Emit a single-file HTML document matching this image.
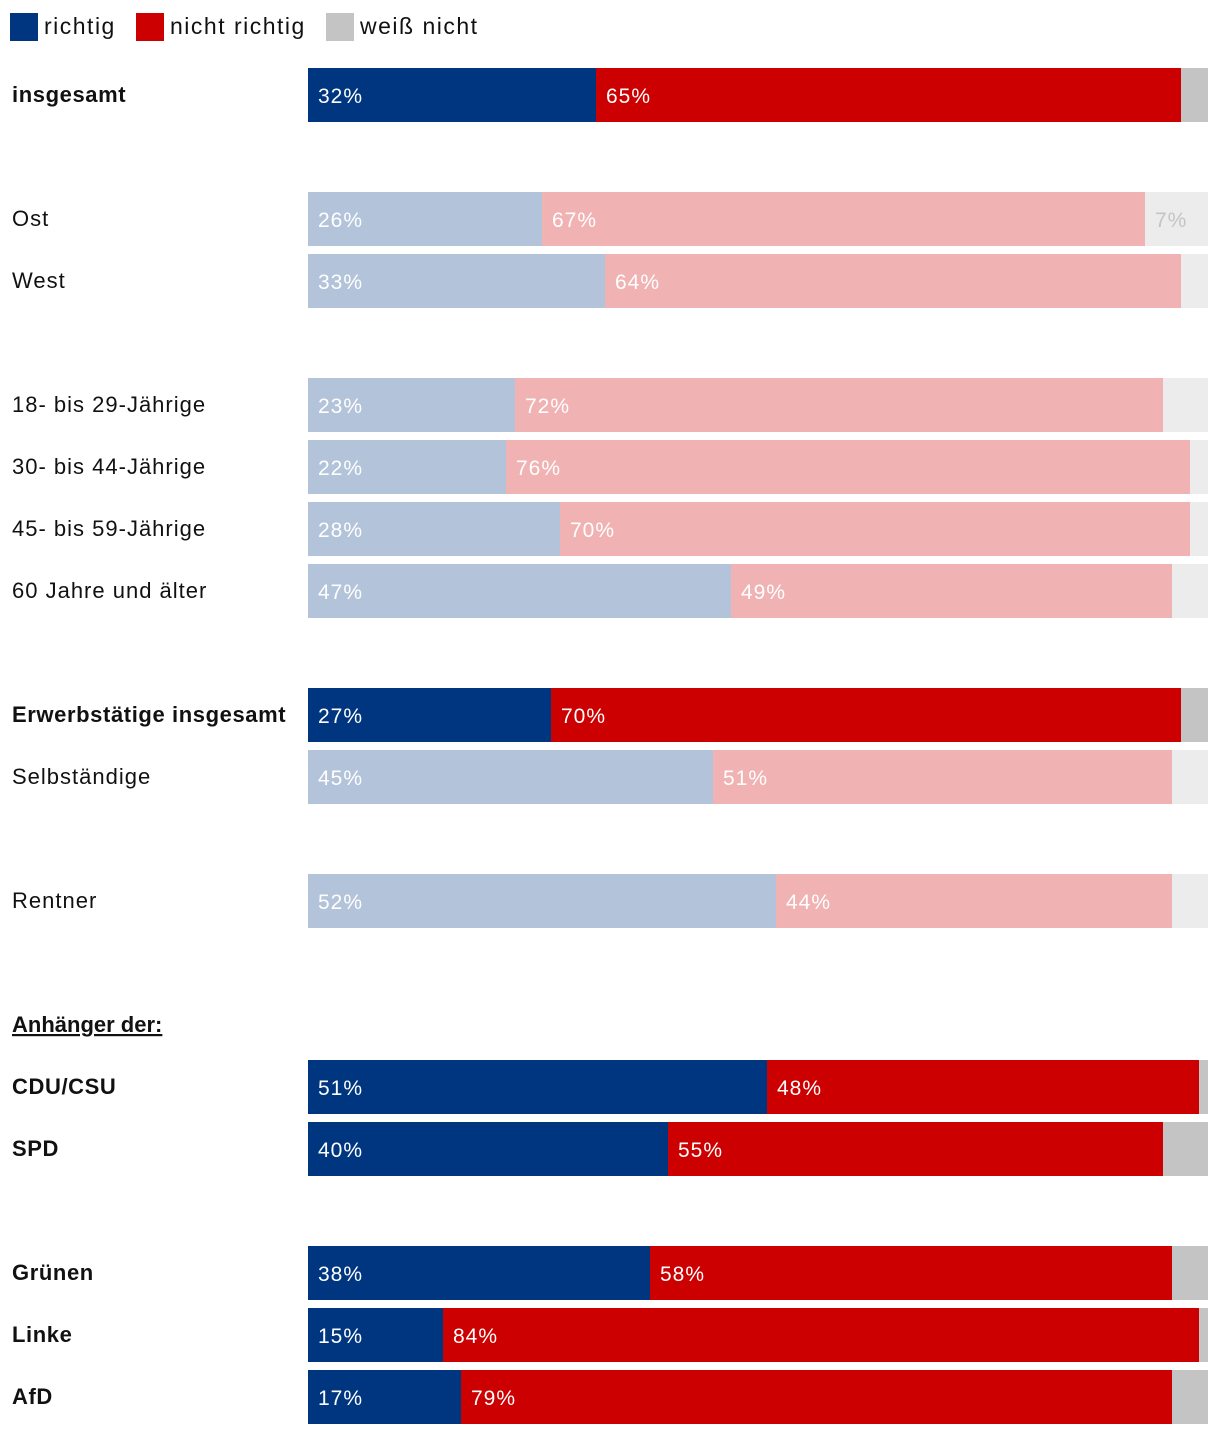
<!DOCTYPE html>
<html><head><meta charset="utf-8">
<style>
html,body{margin:0;padding:0;background:#fff;}
body{width:1220px;height:1436px;overflow:hidden;font-family:"Liberation Sans",sans-serif;}
</style></head>
<body>
<svg id="chart" width="1220" height="1436" xmlns="http://www.w3.org/2000/svg" font-family="Liberation Sans, sans-serif">
  <g>
    <rect x="10" y="13" width="28" height="28" fill="#003680"/>
    <text x="44" y="34" font-size="23" letter-spacing="1.5" fill="#111">richtig</text>
    <rect x="136" y="13" width="28" height="28" fill="#cc0000"/>
    <text x="170" y="34" font-size="23" letter-spacing="1.5" fill="#111">nicht richtig</text>
    <rect x="326" y="13" width="28" height="28" fill="#c4c4c4"/>
    <text x="360" y="34" font-size="23" letter-spacing="1.5" fill="#111">weiß nicht</text>
  </g>
  <text x="12" y="1032" font-size="22" font-weight="bold" text-decoration="underline" fill="#111">Anhänger der:</text>
  <g id="rows"></g>
</svg>
<script>
const categories = ["insgesamt","Ost","West","18- bis 29-Jährige","30- bis 44-Jährige","45- bis 59-Jährige","60 Jahre und älter","Erwerbstätige insgesamt","Selbständige","Rentner","CDU/CSU","SPD","Grünen","Linke","AfD"];
const richtig = [32,26,33,23,22,28,47,27,45,52,51,40,38,15,17];
const nichtRichtig = [65,67,64,72,76,70,49,70,51,44,48,55,58,84,79];
const weissNicht = [3,7,3,5,2,2,4,3,4,4,1,5,4,1,4];
const showWeiss = [false,true,false,false,false,false,false,false,false,false,false,false,false,false,false];
const highlighted = [true,false,false,false,false,false,false,true,false,false,true,true,true,true,true];
const rowY = [68,192,254,378,440,502,564,688,750,874,1060,1122,1246,1308,1370];

const x0 = 308, plotW = 900, barH = 54;
const xs = v => v / 100 * plotW;
const NS = "http://www.w3.org/2000/svg";
const g = document.getElementById('rows');
const darkCols = ["#003680","#cc0000","#c4c4c4"];
const lightCols = ["#b3c3da","#f0b2b2","#ececec"];
const keys = ["richtig","nicht-richtig","weiss-nicht"];

categories.forEach((cat, i) => {
  const y = rowY[i];
  const row = document.createElementNS(NS,'g');
  
  
  const lab = document.createElementNS(NS,'text');
  
  
  lab.setAttribute('x', 12); lab.setAttribute('y', y + 34);
  lab.setAttribute('font-size', 22); lab.setAttribute('fill', '#111');
  if (highlighted[i]) { lab.setAttribute('font-weight', 'bold'); lab.setAttribute('letter-spacing', '0.6'); }
  else lab.setAttribute('letter-spacing', '1');
  lab.textContent = cat;
  row.appendChild(lab);
  const vals = [richtig[i], nichtRichtig[i], weissNicht[i]];
  const cols = highlighted[i] ? darkCols : lightCols;
  let acc = 0;
  vals.forEach((v, k) => {
    const r = document.createElementNS(NS,'rect');
    
    
    r.setAttribute('x', x0 + xs(acc)); r.setAttribute('y', y);
    r.setAttribute('width', xs(v)); r.setAttribute('height', barH);
    r.setAttribute('fill', cols[k]);
    row.appendChild(r);
    if (k < 2 || showWeiss[i]) {
      const t = document.createElementNS(NS,'text');
      
      
      t.setAttribute('x', x0 + xs(acc) + 10); t.setAttribute('y', y + 35);
      t.setAttribute('font-size', 21);
      t.setAttribute('letter-spacing', '1');
      t.setAttribute('fill', k === 2 ? '#c4c4c4' : '#fff');
      t.textContent = v + '%';
      row.appendChild(t);
    }
    acc += v;
  });
  g.appendChild(row);
});
</script>
</body></html>
